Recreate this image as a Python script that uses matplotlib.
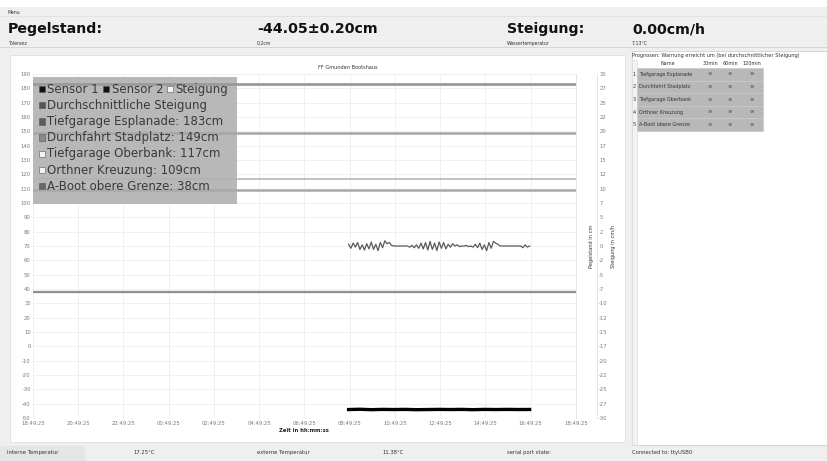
import numpy as np
import matplotlib
matplotlib.use('Agg')
import matplotlib.pyplot as plt
import matplotlib.transforms as mtransforms
from matplotlib.patches import Rectangle

plt.rcParams['axes.unicode_minus'] = False

W, H = 828, 461

# time axis: hours after 18:49:25
time_labels = ["18:49:25", "20:49:25", "22:49:25", "00:49:25", "02:49:25", "04:49:25",
               "06:49:25", "08:49:25", "10:49:25", "12:49:25", "14:49:25", "16:49:25",
               "18:49:25"]

# slope samples, every 6 minutes from 08:46
slope_t0 = 13.95
steigung = [0.3, -0.4, 0.5, -0.2, 0.6, -0.6, 0.2, -0.7, 0.4, -0.5, 0.7, -0.6, 0.3, -0.8,
            0.6, -0.3, 0.9, 0.4, 0.6, 0.1, 0.0,
            0.0, 0.0, 0.0, 0.0, 0.0, 0.0,
            -0.2, 0.1, -0.3, 0.2, -0.4, 0.5, -0.5, 0.6, -0.7, 0.8, -0.6, 0.5, -0.8, 0.7,
            -0.4, 0.6, -0.5, 0.3, -0.2, 0.4, 0.0, 0.2, -0.1, 0.0,
            0.0, 0.1, -0.1, 0.0, -0.2,
            0.3, -0.3, 0.5, -0.6, 0.2, -0.8, 0.6, -0.4, 0.8, 0.5, 0.3,
            0.0, 0.0, 0.0, 0.0, 0.0, 0.0, 0.0, 0.0, 0.0, 0.0,
            -0.3, 0.2, -0.2, 0.0]

# water level samples, every 30 minutes
level_t0 = 13.95
sensor1 = [-44.1, -43.9, -44.2, -44.0, -44.1, -44.0, -44.2, -44.1, -44.0,
           -44.1, -44.0, -44.2, -44.0, -44.1, -44.0, -44.1, -44.05]
sensor2 = [-43.7, -43.8, -43.9, -44.0, -43.9, -44.0, -44.1, -44.0, -44.0,
           -44.1, -44.0, -44.1, -44.0, -44.0, -43.9, -44.0, -44.0]

warn_names = ["Tiefgarage Esplanade", "Durchfahrt Stadplatz", "Tiefgarage Oberbank",
              "Orthner Kreuzung", "A-Boot obere Grenze"]
warn_levels = [183, 149, 117, 109, 38]
warn_colors = ['#9a9a9a', '#a6a6a6', '#b2b2b2', '#a9a9a9', '#8f8f8f']
warn_widths = [2.0, 1.8, 1.1, 1.8, 1.6]
warn_square = ['#5c5c5c', '#8a8a8a', '#f2f2f2', '#f2f2f2', '#686868']

slope_ticks = [30, 27, 25, 22, 20, 17, 15, 12, 10, 7, 5, 2, 0, -2, -5, -7, -10, -12,
               -15, -17, -20, -22, -25, -27, -30]
prog_cols = ["30min", "60min", "120min"]

fig = plt.figure(figsize=(W / 100, H / 100), dpi=100, facecolor='#efefef')
px = mtransforms.Affine2D().scale(1, -1).translate(0, H)


def box(x0, y0, x1, y1, fc, ec='none', lw=0, z=-2):
    fig.add_artist(Rectangle((x0, y1), x1 - x0, y0 - y1, transform=px,
                             facecolor=fc, edgecolor=ec, lw=lw, zorder=z))


def txt(x, y, s, size=3.8, **kw):
    kw.setdefault('color', '#333333')
    kw.setdefault('va', 'center')
    fig.text(x, y, s, transform=px, fontsize=size, **kw)


# window chrome
box(0, 0, W, 7, 'white')
box(0, 16, W, 16.6, '#e2e2e2')
box(0, 47, W, 48, '#d6d6d6')
box(10, 55, 625, 442, 'white', '#dddddd', 0.6)
box(632, 51, W, 445, 'white', '#d0d0d0', 0.6)
box(632, 60, 637, 445, '#f3f3f3', '#d8d8d8', 0.4)
box(0, 446, 85, H, '#e5e5e5')

txt(8, 12, "Menu", 3.3)
big = dict(fontsize=10.2, fontweight='bold', color='#111111', va='baseline', transform=px)
fig.text(8, 33, "Pegelstand:", **big)
fig.text(257, 33, "-44.05±0.20cm", **big)
fig.text(507, 33, "Steigung:", **big)
fig.text(632, 33, "0.00cm/h", **big)
txt(8, 43, "Toleranz", 3.3)
txt(257, 43, "0.2cm", 3.3)
txt(507, 43, "Wassertemperatur", 3.3)
txt(632, 43, "7.13°C", 3.3)

txt(7, 452, "interne Temperatur", 3.8)
txt(133, 452, "17.25°C", 3.8)
txt(257, 452, "externe Temperatur", 3.8)
txt(382, 452, "11.38°C", 3.8)
txt(507, 452, "serial port state:", 3.8)
txt(632, 452, "Connected to: ttyUSB0", 3.8)

# forecast table
txt(632, 55, "Prognosen: Warnung erreicht um (bei durchschnittlicher Steigung)", 3.6)
col_edges = [637, 700, 720, 740, 763]
txt(668, 63.5, "Name", 3.5, ha='center')
for i, c in enumerate(prog_cols):
    txt((col_edges[i + 1] + col_edges[i + 2]) / 2, 63.5, c, 3.5, ha='center')
for e in col_edges[1:]:
    box(e - 0.3, 60, e + 0.3, 67, '#dddddd', z=-1)
row_h = 12.6
for r, name in enumerate(warn_names):
    y0 = 68 + r * row_h
    box(637, y0, 763, y0 + row_h, '#b8b8b8', '#c9c9c9', 0.5, z=-1)
    for e in col_edges[1:-1]:
        box(e - 0.3, y0, e + 0.3, y0 + row_h, '#c9c9c9', z=-1)
    txt(634.5, y0 + row_h / 2, str(r + 1), 3.5, ha='center')
    txt(639, y0 + row_h / 2, name, 3.5)
    for i in range(len(prog_cols)):
        txt((col_edges[i + 1] + col_edges[i + 2]) / 2, y0 + row_h / 2, "∞", 3.8,
            ha='center')

# chart
ax = fig.add_axes([33 / W, 1 - 418 / H, (576 - 33) / W, (418 - 74) / H])
ax.set_facecolor('white')
ax.set_xlim(0, 24)
ax.set_ylim(-50, 190)
ax.set_xticks(range(0, 25, 2))
ax.set_xticklabels(time_labels)
ax.set_yticks(range(-50, 191, 10))
ax.yaxis.tick_right()
ax.tick_params(axis='both', length=0, labelsize=3.8, labelcolor='#7a7a7a')
ax.tick_params(axis='y', pad=1.6)
ax.tick_params(axis='x', pad=2.2)
ax.grid(True, color='#eeeeee', lw=0.6)
for s in ['top', 'left', 'bottom']:
    ax.spines[s].set_visible(False)
ax.spines['right'].set_color('#e2e2e2')
ax.spines['right'].set_linewidth(0.6)

ax2 = ax.twinx()
ax2.set_ylim(-30, 30)
ax2.set_yticks(np.linspace(-30, 30, len(slope_ticks)))
ax2.set_yticklabels([str(v) for v in slope_ticks[::-1]])
ax2.tick_params(axis='y', length=0, pad=1.6, labelsize=3.8, labelcolor='#7a7a7a')
for s in ['top', 'left', 'bottom']:
    ax2.spines[s].set_visible(False)
ax2.spines['right'].set_position(('outward', 15.1))
ax2.spines['right'].set_color('#e2e2e2')
ax2.spines['right'].set_linewidth(0.6)

for lvl, c, lw in zip(warn_levels, warn_colors, warn_widths):
    ax.axhline(lvl, color=c, lw=lw, zorder=3)

t_level = level_t0 + 0.5 * np.arange(len(sensor1))
ax.plot(t_level, sensor2, color='#222222', lw=1.0, zorder=4)
ax.plot(t_level, sensor1, color='black', lw=2.4, zorder=4)

t_slope = slope_t0 + 0.1 * np.arange(len(steigung))
ax2.plot(t_slope, steigung, color='#5a5a5a', lw=0.9)

# legend block
ax.add_patch(Rectangle((33, 204), 204, -127, transform=px, facecolor='#b4b4b4',
                       edgecolor='none', alpha=0.95, zorder=2, clip_on=False))


def legend_item(x, y, fc, label):
    ax.add_patch(Rectangle((x, y + 3.2), 6.4, -6.4, transform=px, facecolor=fc,
                           edgecolor='#555555', lw=0.4, zorder=5, clip_on=False))
    ax.text(x + 8.5, y, label, transform=px, fontsize=8.5, color='#3a3a3a',
            va='center', zorder=6, clip_on=False)


row_y = [89 + 16.2 * i for i in range(7)]
legend_item(38.5, row_y[0], '#111111', "Sensor 1")
legend_item(103, row_y[0], '#111111', "Sensor 2")
legend_item(166.5, row_y[0], '#f4f4f4', "Steigung")
legend_item(38.5, row_y[1], '#555555', "Durchschnittliche Steigung")
for i, (name, lvl, sq) in enumerate(zip(warn_names, warn_levels, warn_square)):
    legend_item(38.5, row_y[i + 2], sq, f"{name}: {lvl}cm")

txt(318, 67, "FF Gmunden Bootshaus", 3.6)
txt(304, 430, "Zeit in hh:mm:ss", 3.8, ha='center', fontweight='bold', color='#222222')
txt(591, 246, "Pegelstand in cm", 3.6, ha='center', rotation=90, color='#333333')
txt(613, 246, "Steigung in cm/h", 3.6, ha='center', rotation=90, color='#333333')

fig.savefig('out.png', dpi=100, facecolor=fig.get_facecolor())
